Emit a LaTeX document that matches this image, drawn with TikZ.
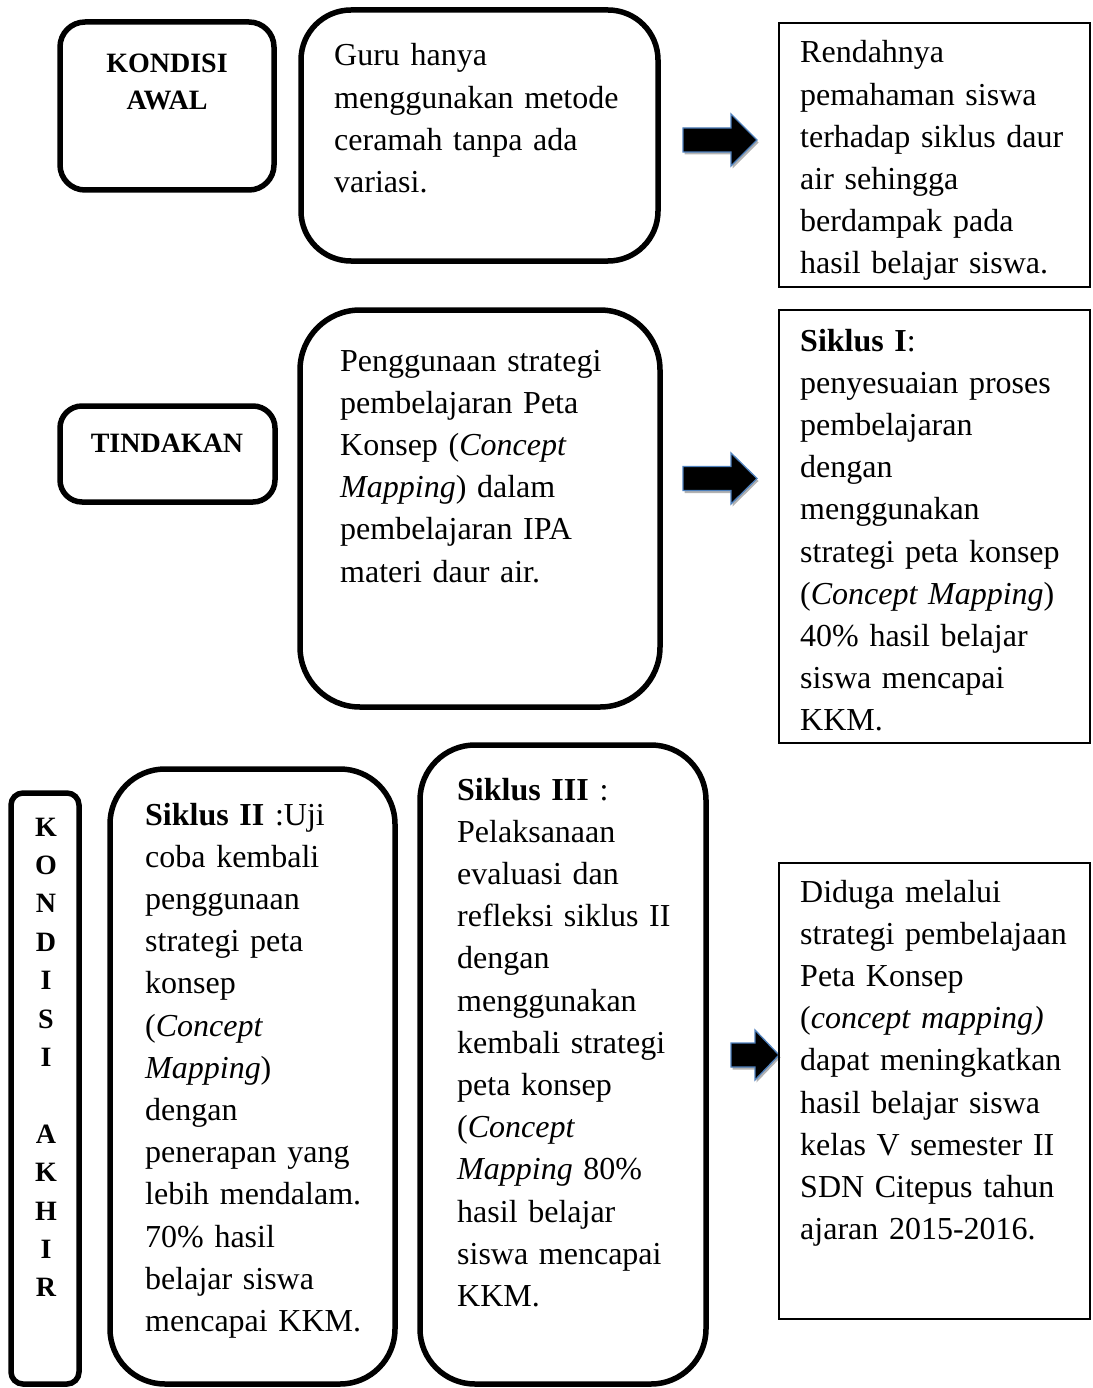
\documentclass[tikz,border=0pt]{standalone}
\usepackage{fontspec}
\setmainfont{Liberation Serif}
\usetikzlibrary{shadows}
\definecolor{arrowblue}{HTML}{4F81BD}
\begin{document}
\begin{tikzpicture}[x=1pt,y=-1pt,
  thickbox/.style={rectangle, draw=black, line width=5.5pt, rounded corners=#1, inner sep=0pt},
  thinbox/.style={rectangle, draw=black, line width=1.4pt, inner sep=0pt},
  txt/.style={anchor=base west, inner sep=0pt, align=left, text width=#1,
    font=\fontsize{32}{42.2}\selectfont},
  lbl/.style={anchor=base, inner sep=0pt, align=center, text width=#1,
    font=\fontsize{28}{37}\selectfont\bfseries},
  blockarrow/.style={fill=black, draw=arrowblue, line width=1.3pt, line join=miter,
    drop shadow={shadow xshift=1.5pt, shadow yshift=-2.5pt, opacity=0.3, fill=black}}
]
\useasboundingbox (0,0) rectangle (1092,1388);
\fill[white] (0,0) rectangle (1092,1388);

% ---- row 1 ----
\node[thickbox=25pt, minimum width=214pt, minimum height=168pt] (ka) at (167,106) {};
\node[lbl=200pt] (kat) at (167,73) {KONDISI\\AWAL};
\node[thickbox=50pt, minimum width=357pt, minimum height=251pt] (guru) at (479.5,135.5) {};
\node[txt=310pt] (gurut) at (334,66) {Guru hanya\\ menggunakan metode\\ ceramah tanpa ada\\ variasi.};
\path[blockarrow] (683,128) -- (731,128) -- (731,114) -- (757,140) -- (731,166) -- (731,152) -- (683,152) -- cycle;
\node[thinbox, minimum width=311pt, minimum height=264pt] (r1) at (934.5,155) {};
\node[txt=286pt] (r1t) at (800,63) {Rendahnya\\ pemahaman siswa\\ terhadap siklus daur\\ air sehingga\\ berdampak pada\\ hasil belajar siswa.};

% ---- row 2 ----
\node[thickbox=22pt, minimum width=215pt, minimum height=96pt] (tin) at (167.5,454) {};
\node[lbl=200pt] (tint) at (167,452) {TINDAKAN};
\node[thickbox=60pt, minimum width=360pt, minimum height=397pt] (peng) at (480,508.5) {};
\node[txt=310pt] (pengt) at (340,371) {Penggunaan strategi\\ pembelajaran Peta\\ Konsep (\textit{Concept}\\ \textit{Mapping}) dalam\\ pembelajaran IPA\\ materi daur air.};
\path[blockarrow] (683,466.5) -- (731,466.5) -- (731,453) -- (757,478.5) -- (731,504) -- (731,490.5) -- (683,490.5) -- cycle;
\node[thinbox, minimum width=311pt, minimum height=433pt] (r2) at (934.5,526.5) {};
\node[txt=286pt] (r2t) at (800,351) {\textbf{Siklus I}:\\ penyesuaian proses\\ pembelajaran\\ dengan\\ menggunakan\\ strategi peta konsep\\ (\textit{Concept Mapping})\\ 40\% hasil belajar\\ siswa mencapai\\ KKM.};

% ---- row 3 ----
\node[thickbox=12pt, minimum width=68pt, minimum height=591pt] (kak) at (45,1088.5) {};
\node[lbl=60pt, font=\fontsize{28}{38.4}\selectfont\bfseries] (kakt) at (46,836) {K\\O\\N\\D\\I\\S\\I\\[38.4pt]A\\K\\H\\I\\R};
\node[thickbox=55pt, minimum width=285pt, minimum height=615pt] (s2) at (252.5,1076.5) {};
\node[txt=245pt] (s2t) at (145,825) {\textbf{Siklus II} :Uji\\ coba kembali\\ penggunaan\\ strategi peta\\ konsep\\ (\textit{Concept}\\ \textit{Mapping})\\ dengan\\ penerapan yang\\ lebih mendalam.\\ 70\% hasil\\ belajar siswa\\ mencapai KKM.};
\node[thickbox=55pt, minimum width=286pt, minimum height=639pt] (s3) at (563,1064.5) {};
\node[txt=245pt] (s3t) at (457,800) {\textbf{Siklus III} :\\ Pelaksanaan\\ evaluasi dan\\ refleksi siklus II\\ dengan\\ menggunakan\\ kembali strategi\\ peta konsep\\ (\textit{Concept}\\ \textit{Mapping} 80\%\\ hasil belajar\\ siswa mencapai\\ KKM.};
\path[blockarrow] (731,1043) -- (755,1043) -- (755,1030) -- (779,1055) -- (755,1080) -- (755,1067) -- (731,1067) -- cycle;
\node[thinbox, minimum width=311pt, minimum height=456pt] (r3) at (934.5,1091) {};
\node[txt=286pt] (r3t) at (800,902) {Diduga melalui\\ strategi pembelajaan\\ Peta Konsep\\ (\textit{concept mapping)}\\ dapat meningkatkan\\ hasil belajar siswa\\ kelas V semester II\\ SDN Citepus tahun\\ ajaran 2015-2016.};
\end{tikzpicture}
\end{document}
